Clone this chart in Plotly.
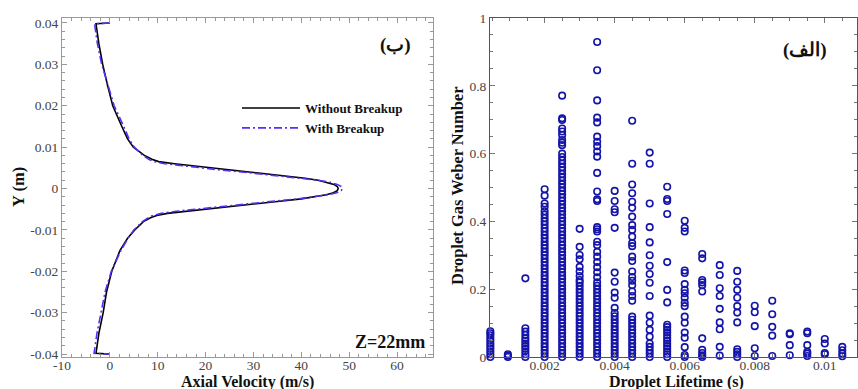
import plotly.graph_objects as go

# ---------------- Left panel: axial velocity profiles ----------------
y_pos = [0.04, 0.0398, 0.035, 0.03, 0.025, 0.02, 0.015, 0.012, 0.01, 0.008, 0.007,
         0.0065, 0.006, 0.0055, 0.005, 0.0045, 0.004, 0.0035, 0.003, 0.0025, 0.002,
         0.0015, 0.001, 0.0005, 0.0, -0.0005, -0.001, -0.0015, -0.002, -0.0025, -0.003,
         -0.0035, -0.004, -0.0045, -0.005, -0.0055, -0.006, -0.0065, -0.007, -0.008,
         -0.01, -0.012, -0.015, -0.02, -0.025, -0.03, -0.035, -0.0398, -0.04]
vel_without = [0.0, -2.9, -2.3, -1.5, -0.5, 0.6, 2.5, 3.7, 4.9, 7.2, 8.9,
               10.2, 13.5, 17.5, 21.5, 25.5, 29.5, 33.5, 37.0, 40.8, 43.5,
               45.5, 46.8, 47.5, 47.7, 47.5, 46.7, 45.2, 43.0, 40.0, 36.0,
               32.0, 27.8, 23.5, 19.5, 15.5, 12.0, 9.8, 8.6, 7.0,
               5.2, 3.7, 2.1, 0.4, -0.7, -1.4, -2.3, -2.9, 0.0]
vel_with = [0.0, -3.2, -2.6, -1.7, -0.4, 0.9, 2.9, 4.0, 5.1, 6.9, 8.2,
            9.2, 11.5, 15.0, 19.0, 23.0, 27.5, 31.8, 35.8, 40.0, 43.5,
            46.0, 47.5, 48.3, 48.6, 48.3, 47.4, 45.6, 42.8, 39.2, 34.8,
            30.3, 25.8, 21.5, 17.5, 13.8, 10.8, 9.0, 8.1, 6.8,
            5.0, 3.8, 2.3, 0.3, -1.0, -1.9, -2.7, -3.3, 0.0]

vel_ticks = [-10, 0, 10, 20, 30, 40, 50, 60]
vel_ticktext = ["-10", "0", "10", "20", "30", "40", "50", "60"]
ypos_ticks = [-0.04, -0.03, -0.02, -0.01, 0.0, 0.01, 0.02, 0.03, 0.04]
ypos_ticktext = ["-0.04", "-0.03", "-0.02", "-0.01", "0", "0.01", "0.02", "0.03", "0.04"]

# ---------------- Right panel: Weber number vs lifetime ----------------
lifetime_cols = [0.00045, 0.00095, 0.00145, 0.002, 0.0025, 0.003, 0.0035, 0.004,
                 0.0045, 0.005, 0.0055, 0.006, 0.0065, 0.007, 0.0075, 0.008,
                 0.0085, 0.009, 0.0095, 0.01, 0.0105]
weber_cols = [
    [0.0, 0.008, 0.016, 0.024, 0.032, 0.04, 0.048, 0.056, 0.064, 0.07, 0.076],
    [0.0, 0.004, 0.008],
    [0.0, 0.008, 0.016, 0.024, 0.032, 0.04, 0.048, 0.055, 0.065, 0.075, 0.085, 0.232],
    [0.0, 0.01, 0.02, 0.03, 0.04, 0.05, 0.06, 0.07, 0.08, 0.09, 0.1, 0.11, 0.12, 0.13,
     0.14, 0.15, 0.16, 0.17, 0.18, 0.19, 0.2, 0.21, 0.22, 0.23, 0.24, 0.25, 0.26, 0.27,
     0.28, 0.29, 0.3, 0.31, 0.32, 0.33, 0.34, 0.35, 0.36, 0.37, 0.38, 0.39, 0.4, 0.41,
     0.42, 0.43, 0.443, 0.453, 0.476, 0.495],
    [0.0, 0.01, 0.02, 0.03, 0.04, 0.05, 0.06, 0.07, 0.08, 0.09, 0.1, 0.11, 0.12, 0.13,
     0.14, 0.15, 0.16, 0.17, 0.18, 0.19, 0.2, 0.21, 0.22, 0.23, 0.24, 0.25, 0.26, 0.27,
     0.28, 0.29, 0.3, 0.31, 0.32, 0.33, 0.34, 0.35, 0.36, 0.37, 0.38, 0.39, 0.4, 0.41,
     0.42, 0.43, 0.44, 0.45, 0.46, 0.47, 0.48, 0.49, 0.5, 0.51, 0.52, 0.53, 0.54, 0.55,
     0.56, 0.57, 0.58, 0.59, 0.6, 0.625, 0.632, 0.64, 0.655, 0.665, 0.674, 0.699, 0.704,
     0.771],
    [0.0, 0.01, 0.02, 0.03, 0.04, 0.05, 0.06, 0.07, 0.08, 0.09, 0.1, 0.11, 0.12, 0.13,
     0.14, 0.15, 0.16, 0.17, 0.18, 0.19, 0.2, 0.21, 0.22, 0.227, 0.239, 0.252, 0.266,
     0.288, 0.301, 0.325, 0.378],
    [0.0, 0.01, 0.02, 0.03, 0.04, 0.05, 0.06, 0.07, 0.08, 0.09, 0.1, 0.11, 0.12, 0.13,
     0.14, 0.15, 0.16, 0.17, 0.18, 0.19, 0.2, 0.21, 0.22, 0.235, 0.25, 0.265, 0.28,
     0.296, 0.31, 0.33, 0.34, 0.37, 0.377, 0.383, 0.46, 0.465, 0.488, 0.543, 0.591,
     0.606, 0.622, 0.635, 0.65, 0.692, 0.706, 0.757, 0.846, 0.929],
    [0.0, 0.01, 0.02, 0.03, 0.04, 0.05, 0.06, 0.07, 0.08, 0.09, 0.1, 0.11, 0.12, 0.13,
     0.145, 0.175, 0.19, 0.222, 0.249, 0.381, 0.427, 0.436, 0.46, 0.49],
    [0.0, 0.01, 0.02, 0.03, 0.04, 0.05, 0.06, 0.07, 0.08, 0.09, 0.1, 0.11, 0.119, 0.166,
     0.18, 0.193, 0.212, 0.225, 0.236, 0.252, 0.283, 0.296, 0.327, 0.336, 0.355, 0.375,
     0.389, 0.414, 0.44, 0.458, 0.483, 0.509, 0.57, 0.697],
    [0.0, 0.01, 0.02, 0.03, 0.04, 0.06, 0.08, 0.101, 0.122, 0.18, 0.219, 0.245, 0.269,
     0.3, 0.338, 0.383, 0.453, 0.57, 0.603],
    [0.0, 0.008, 0.016, 0.024, 0.032, 0.04, 0.048, 0.056, 0.064, 0.072, 0.08, 0.088,
     0.095, 0.161, 0.198, 0.28, 0.422, 0.46, 0.466, 0.502],
    [0.0, 0.006, 0.029, 0.057, 0.072, 0.101, 0.119, 0.15, 0.16, 0.175, 0.188, 0.198,
     0.215, 0.248, 0.255, 0.37, 0.381, 0.402],
    [0.0, 0.005, 0.012, 0.021, 0.055, 0.193, 0.212, 0.22, 0.227, 0.291, 0.304],
    [0.004, 0.03, 0.082, 0.102, 0.142, 0.18, 0.203, 0.242, 0.271],
    [0.0, 0.008, 0.015, 0.023, 0.102, 0.131, 0.15, 0.175, 0.198, 0.222, 0.254],
    [0.003, 0.026, 0.091, 0.132, 0.151],
    [0.003, 0.063, 0.089, 0.126, 0.166],
    [0.005, 0.035, 0.067, 0.07],
    [0.003, 0.01, 0.015, 0.035, 0.07, 0.075],
    [0.008, 0.012, 0.04, 0.053],
    [0.002, 0.01, 0.02, 0.03],
]
life_ticks = [0.002, 0.004, 0.006, 0.008, 0.01]
life_ticktext = ["0.002", "0.004", "0.006", "0.008", "0.01"]
we_ticks = [0, 0.2, 0.4, 0.6, 0.8, 1.0]
we_ticktext = ["0", "0.2", "0.4", "0.6", "0.8", "1"]

scatter_x, scatter_y = [], []
for lt, vals in zip(lifetime_cols, weber_cols):
    scatter_x += [lt] * len(vals)
    scatter_y += vals

SERIF = "Liberation Serif, Times New Roman, serif"
W, H = 858, 389

fig = go.Figure()
fig.add_trace(go.Scatter(x=vel_without, y=y_pos, mode="lines", name="Without Breakup",
                         line=dict(color="black", width=1.6), xaxis="x", yaxis="y"))
fig.add_trace(go.Scatter(x=vel_with, y=y_pos, mode="lines", name="With Breakup",
                         line=dict(color="#5a2cf5", width=1.6, dash="8px,3px,2px,3px"),
                         xaxis="x", yaxis="y"))
fig.add_trace(go.Scatter(x=scatter_x, y=scatter_y, mode="markers", showlegend=False,
                         marker=dict(symbol="circle-open", size=6.5, color="#1414a8",
                                     line=dict(width=1.6, color="#1414a8")),
                         cliponaxis=False, xaxis="x2", yaxis="y2"))

ydom = [(H - 357) / H, (H - 18) / H]
tickfont = dict(family=SERIF, size=13.5, color="#444")

common = dict(showline=True, mirror="allticks", ticks="inside", ticklen=5, tickwidth=1,
              showgrid=False, zeroline=False, tickfont=tickfont, automargin=False)


def pa(text, px, py, size, angle=0):
    return dict(text=text, x=px / W, y=1 - py / H, xref="paper", yref="paper",
                xanchor="center", yanchor="middle", showarrow=False, textangle=angle,
                font=dict(family=SERIF, size=size, color="#111", weight="bold"))


fig.update_layout(
    width=W, height=H, autosize=False,
    margin=dict(l=0, r=0, t=0, b=0),
    paper_bgcolor="white", plot_bgcolor="white",
    xaxis=dict(domain=[62 / W, 433 / W], range=[-10, 67.5], tickvals=vel_ticks,
               ticktext=vel_ticktext, linecolor="#999", tickcolor="#999",
               ticklabelstandoff=-4,
               minor=dict(dtick=2, tick0=0, ticks="inside", ticklen=3, tickcolor="#999"),
               anchor="y", **common),
    yaxis=dict(domain=ydom, range=[-0.0407, 0.0412], tickvals=ypos_ticks,
               ticktext=ypos_ticktext, linecolor="#999", tickcolor="#999",
               minor=dict(dtick=0.002, tick0=0, ticks="inside", ticklen=3, tickcolor="#999"),
               anchor="x", **common),
    xaxis2=dict(domain=[490 / W, 857 / W], range=[0.00044, 0.01092], tickvals=life_ticks,
                ticktext=life_ticktext, linecolor="#555", tickcolor="#777",
                ticklabelstandoff=-4,
                minor=dict(dtick=0.0005, tick0=0, ticks="inside", ticklen=3, tickcolor="#777"),
                anchor="y2", **common),
    yaxis2=dict(domain=ydom, range=[0, 1], tickvals=we_ticks, ticktext=we_ticktext,
                linecolor="#555", tickcolor="#777",
                minor=dict(dtick=0.05, tick0=0, ticks="inside", ticklen=3, tickcolor="#777"),
                anchor="x2", **common),
    legend=dict(x=237 / W, y=1 - 93 / H, xanchor="left", yanchor="top",
                bgcolor="rgba(0,0,0,0)", itemwidth=58, tracegroupgap=0,
                font=dict(family=SERIF, size=13, color="#111", weight="bold")),
    annotations=[
        pa("Axial Velocity (m/s)", 247, 382, 16),
        pa("Y (m)", 18, 187, 16.5, -90),
        pa("Droplet Lifetime (s)", 676, 382, 16),
        pa("Droplet Gas Weber Number", 457, 186, 16.5, -90),
        pa("(ب)", 395, 45, 19),
        pa("Z=22mm", 390, 342, 18),
        pa("(الف)", 805, 50, 19),
    ],
)

fig.write_html("out.html")
